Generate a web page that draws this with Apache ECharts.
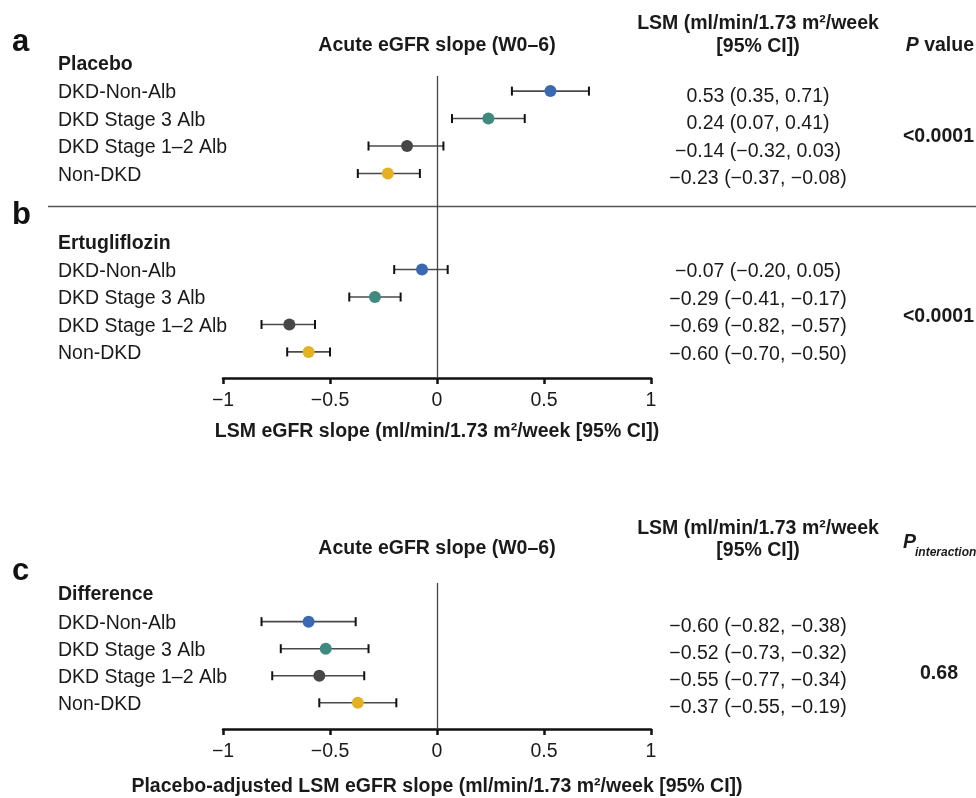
<!DOCTYPE html>
<html>
<head>
<meta charset="utf-8">
<script src="https://cdn.jsdelivr.net/npm/echarts@6/dist/echarts.min.js"></script>
<style>html,body{margin:0;padding:0;background:#fff}#c{width:976px;height:798px}</style>
</head>
<body>
<div id="c"></div>
<script>
// ---------- data ----------
const groups = ['DKD-Non-Alb', 'DKD Stage 3 Alb', 'DKD Stage 1–2 Alb', 'Non-DKD'];
const placeboLsm  = [0.53, 0.24, -0.14, -0.23];
const placeboLow  = [0.35, 0.07, -0.32, -0.37];
const placeboHigh = [0.71, 0.41, 0.03, -0.08];
const ertuLsm  = [-0.07, -0.29, -0.69, -0.60];
const ertuLow  = [-0.20, -0.41, -0.82, -0.70];
const ertuHigh = [0.05, -0.17, -0.57, -0.50];
const diffLsm  = [-0.60, -0.52, -0.55, -0.37];
const diffLow  = [-0.82, -0.73, -0.77, -0.55];
const diffHigh = [-0.38, -0.32, -0.34, -0.19];
const pPlacebo = '<0.0001';
const pErtu = '<0.0001';
const pInteraction = '0.68';
const xTicks = [-1, -0.5, 0, 0.5, 1];

// ---------- styling / layout ----------
const FONT = '"Liberation Sans", Arial, Helvetica, sans-serif';
const FS = 19.5;
const TXT = '#1a1a1a';
const groupColors = ['#3a69b3', '#3f897f', '#474747', '#e4b123'];
const minus = s => String(s).replace(/-/g, '−');
const fmt = v => minus(v.toFixed(2));

const chart = echarts.init(document.getElementById('c'), null, {renderer: 'canvas'});

// row positions (in row units of each panel's hidden y axis)
const rowsPlacebo = groups.map((g, i) => 0.55 + i);
const rowsErtu = groups.map((g, i) => 7.05 + i);
const rowsDiff = groups.map((g, i) => 1.43 + i);

function errSeries(gridIdx, low, high, rows, withZero) {
  const s = {
    type: 'custom', xAxisIndex: gridIdx, yAxisIndex: gridIdx, z: 3, clip: false,
    data: low.map((l, i) => [l, high[i], rows[i]]),
    encode: {x: [0, 1], y: 2},
    renderItem: function (params, api) {
      const a = api.coord([api.value(0), api.value(2)]);
      const b = api.coord([api.value(1), api.value(2)]);
      const h = 4.5;
      return {type: 'group', children: [
        {type: 'line', shape: {x1: a[0], y1: a[1], x2: b[0], y2: b[1]}, style: {stroke: '#4a4a4a', lineWidth: 1.6}},
        {type: 'line', shape: {x1: a[0], y1: a[1] - h, x2: a[0], y2: a[1] + h}, style: {stroke: '#111', lineWidth: 2}},
        {type: 'line', shape: {x1: b[0], y1: b[1] - h, x2: b[0], y2: b[1] + h}, style: {stroke: '#111', lineWidth: 2}}
      ]};
    }
  };
  if (withZero) {
    s.markLine = {silent: true, symbol: ['none', 'none'], label: {show: false},
      lineStyle: {color: '#444', width: 1.3, type: 'solid'}, data: [{xAxis: 0}]};
  }
  return s;
}
function dotSeries(gridIdx, vals, rows) {
  return {
    type: 'scatter', xAxisIndex: gridIdx, yAxisIndex: gridIdx, z: 5, symbolSize: 12, clip: false,
    data: vals.map((v, i) => ({value: [v, rows[i]], itemStyle: {color: groupColors[i], opacity: 1}}))
  };
}
function xAxisCfg(gridIdx, name, gap) {
  return {
    gridIndex: gridIdx, type: 'value', min: xTicks[0], max: xTicks[xTicks.length - 1], interval: 0.5,
    position: 'bottom',
    name: name, nameLocation: 'middle', nameGap: gap,
    nameTextStyle: {fontFamily: FONT, fontSize: FS, fontWeight: 'bold', color: TXT},
    axisLine: {show: true, onZero: false, lineStyle: {color: '#111', width: 2.5}},
    axisTick: {show: true, length: 6, lineStyle: {color: '#111', width: 2.5}},
    splitLine: {show: false},
    axisLabel: {fontFamily: FONT, fontSize: FS, color: TXT, margin: 13, showMinLabel: true, showMaxLabel: true,
      formatter: v => minus(v)}
  };
}

const option = {
  animation: false,
  backgroundColor: '#fff',
  grid: [
    {left: 223, width: 428, top: 76, height: 302},
    {left: 223, width: 428, top: 583, height: 147}
  ],
  xAxis: [
    xAxisCfg(0, 'LSM eGFR slope (ml/min/1.73 m²/week [95% CI])', 44),
    xAxisCfg(1, 'Placebo-adjusted LSM eGFR slope (ml/min/1.73 m²/week [95% CI])', 48)
  ],
  yAxis: [
    {gridIndex: 0, type: 'value', inverse: true, min: 0, max: 11, show: false},
    {gridIndex: 1, type: 'value', inverse: true, min: 0, max: 5.4, show: false}
  ],
  series: [
    errSeries(0, placeboLow, placeboHigh, rowsPlacebo, true),
    errSeries(0, ertuLow, ertuHigh, rowsErtu, false),
    errSeries(1, diffLow, diffHigh, rowsDiff, true),
    dotSeries(0, placeboLsm, rowsPlacebo),
    dotSeries(0, ertuLsm, rowsErtu),
    dotSeries(1, diffLsm, rowsDiff)
  ]
};
chart.setOption(option);

// ---------- text columns placed through the axes ----------
function T(x, y, text, o) {
  o = o || {};
  return {type: 'text', x: x, y: y + 2, silent: true, z: 10, style: Object.assign({
    text: text, fontFamily: FONT, fontSize: FS, fontWeight: 'normal', fill: TXT,
    align: 'left', verticalAlign: 'middle'}, o)};
}
const px = (g, x, y) => chart.convertToPixel({gridIndex: g}, [x, y]);
const g = [];
const LABEL_X = 58, VAL_X = 758, P_RIGHT = 974;
const zeroX = px(0, 0, 0)[0];

function panel(gi, rows, lsm, low, high, heading, headRow, valOff) {
  g.push(T(LABEL_X, px(gi, 0, headRow)[1], heading, {fontWeight: 'bold'}));
  rows.forEach((r, i) => {
    const y = px(gi, 0, r)[1];
    g.push(T(LABEL_X, y, groups[i]));
    g.push(T(VAL_X, y + valOff, fmt(lsm[i]) + ' (' + fmt(low[i]) + ', ' + fmt(high[i]) + ')', {align: 'center'}));
  });
}
panel(0, rowsPlacebo, placeboLsm, placeboLow, placeboHigh, 'Placebo', rowsPlacebo[0] - 1.02, 3.5);
panel(0, rowsErtu, ertuLsm, ertuLow, ertuHigh, 'Ertugliflozin', rowsErtu[0] - 1.02, 0.5);
panel(1, rowsDiff, diffLsm, diffLow, diffHigh, 'Difference', rowsDiff[0] - 1.06, 2.5);

// p-values, vertically centred on each group
const midY = (gi, rows) => (px(gi, 0, rows[0])[1] + px(gi, 0, rows[rows.length - 1])[1]) / 2;
g.push(T(P_RIGHT, midY(0, rowsPlacebo) + 2, pPlacebo, {align: 'right', fontWeight: 'bold'}));
g.push(T(P_RIGHT, midY(0, rowsErtu) + 4, pErtu, {align: 'right', fontWeight: 'bold'}));
g.push(T(939, midY(1, rowsDiff) + 9, pInteraction, {align: 'center', fontWeight: 'bold'}));

// headers
g.push(T(zeroX, 44, 'Acute eGFR slope (W0–6)', {align: 'center', fontWeight: 'bold'}));
g.push(T(zeroX, 547, 'Acute eGFR slope (W0–6)', {align: 'center', fontWeight: 'bold'}));
[[22, 45], [527, 549]].forEach(ys => {
  g.push(T(VAL_X, ys[0], 'LSM (ml/min/1.73 m²/week', {align: 'center', fontWeight: 'bold'}));
  g.push(T(VAL_X, ys[1], '[95% CI])', {align: 'center', fontWeight: 'bold'}));
});
g.push(T(P_RIGHT, 44, '{p|P}{v| value}', {align: 'right', fontWeight: 'bold',
  rich: {p: {fontFamily: FONT, fontSize: FS, fontStyle: 'italic', fontWeight: 'bold', fill: TXT},
         v: {fontFamily: FONT, fontSize: FS, fontWeight: 'bold', fill: TXT}}}));
g.push(T(903, 541, 'P', {fontStyle: 'italic', fontWeight: 'bold'}));
g.push(T(915, 551, 'interaction', {fontStyle: 'italic', fontWeight: 'bold', fontSize: 12}));

// panel letters
g.push(T(12, 40, 'a', {fontWeight: 'bold', fontSize: 31, fill: '#111'}));
g.push(T(12, 213, 'b', {fontWeight: 'bold', fontSize: 31, fill: '#111'}));
g.push(T(12, 569, 'c', {fontWeight: 'bold', fontSize: 31, fill: '#111'}));

// separator between panels a and b
const sepY = (px(0, 0, rowsPlacebo[3])[1] + px(0, 0, rowsErtu[0])[1]) / 2 - 15;
g.push({type: 'line', silent: true, z: 2, shape: {x1: 48, y1: sepY, x2: 976, y2: sepY},
  style: {stroke: '#555', lineWidth: 1.5}});

chart.setOption({graphic: g});
</script>
</body>
</html>
